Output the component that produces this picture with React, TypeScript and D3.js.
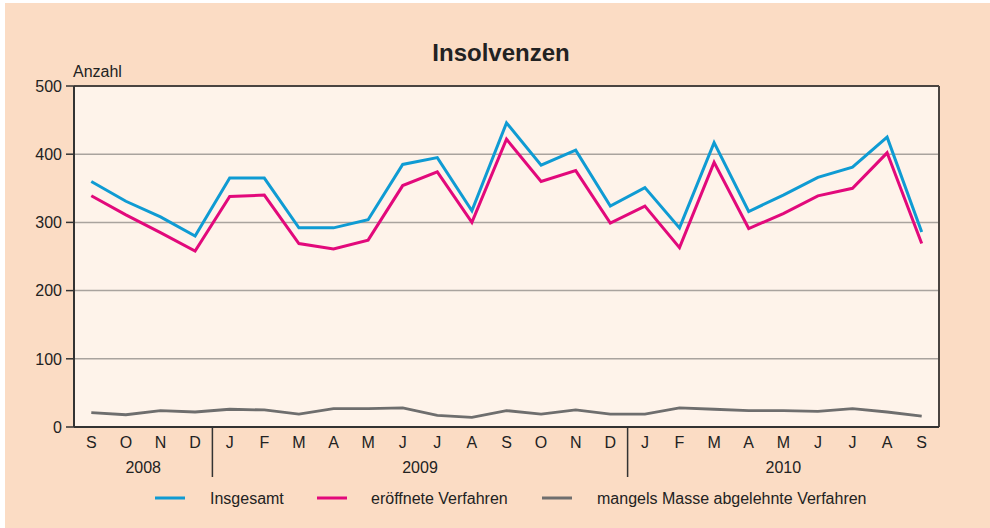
import React from "react";
import * as d3 from "d3";

const months = ["S","O","N","D","J","F","M","A","M","J","J","A","S","O","N","D","J","F","M","A","M","J","J","A","S"];
const years = [
  { label: "2008", start: 0, end: 4 },
  { label: "2009", start: 4, end: 16 },
  { label: "2010", start: 16, end: 25 },
];
const insgesamt = [360,331,308,280,365,365,292,292,304,385,395,317,446,384,406,324,351,292,417,316,340,366,381,425,286];
const eroeffnet = [339,311,285,258,338,340,269,261,274,354,374,300,422,360,376,299,324,263,388,291,313,339,350,402,269];
const mangels = [21,18,24,22,26,25,19,27,27,28,17,14,24,19,25,19,19,28,26,24,24,23,27,22,16];
const yTicks = [0,100,200,300,400,500];
const seriesNames = ["Insgesamt","eröffnete Verfahren","mangels Masse abgelehnte Verfahren"];
const colors = ["#0f9bd3","#e2097b","#6e6e6e"];

export default function App() {
  const W = 990, H = 528;
  const left = 74, right = 939, top = 86, bottom = 427;
  const idx = months.map((_, i) => i);
  const x = d3.scaleBand<number>().domain(idx).range([left, right]).paddingInner(0).paddingOuter(0);
  const cx = (i: number) => (x(i) as number) + x.bandwidth() / 2;
  const y = d3.scaleLinear().domain([0, 500]).range([bottom, top]);
  const line = d3.line<number>().x((_, i) => cx(i)).y((d) => y(d));
  const series = [insgesamt, eroeffnet, mangels];
  const font = "Liberation Sans, Arial, sans-serif";
  const legendLineX = [155, 317, 542];
  const legendTextX = [210, 371, 597];
  return (
    <svg width={W} height={H} style={{ position: "absolute", left: 0, top: 0 }} fontFamily={font}>
      <rect x={0} y={0} width={W} height={H} fill="#ffffff" />
      <rect x={5} y={3} width={W - 5} height={H - 3} fill="#fbdcc4" />
      <rect x={left} y={top} width={right - left} height={bottom - top} fill="#fef3ea" />
      <text x={501} y={61} textAnchor="middle" fontSize={24} fontWeight="bold" fill="#222">Insolvenzen</text>
      <text x={73} y={77} fontSize={16} fill="#222">Anzahl</text>
      {yTicks.map((t) => (
        <g key={t}>
          {t > 0 && t < 500 && (
            <line x1={left} x2={right} y1={y(t)} y2={y(t)} stroke="#a9a39e" strokeWidth={1.5} />
          )}
          <line x1={66} x2={left} y1={y(t)} y2={y(t)} stroke="#333" strokeWidth={1.5} />
          <text x={62} y={y(t)} dy="0.36em" textAnchor="end" fontSize={16} fill="#222">{t}</text>
        </g>
      ))}
      <line x1={left} x2={right} y1={top} y2={top} stroke="#4a4440" strokeWidth={2} />
      <line x1={right} x2={right} y1={top} y2={bottom} stroke="#4a4440" strokeWidth={2} />
      {series.map((s, k) => (
        <path key={k} d={line(s) || ""} fill="none" stroke={colors[k]} strokeWidth={k === 2 ? 2.8 : 3} strokeLinejoin="miter" />
      ))}
      <line x1={left} x2={left} y1={top} y2={bottom} stroke="#333" strokeWidth={2} />
      <line x1={left} x2={right} y1={bottom} y2={bottom} stroke="#333" strokeWidth={2} />
      {months.map((m, i) => (
        <text key={i} x={cx(i)} y={442} dy="0.36em" textAnchor="middle" fontSize={16} fill="#222">{m}</text>
      ))}
      {years.map((yr, i) => {
        const x0 = x(yr.start) as number;
        const x1 = yr.end < months.length ? (x(yr.end) as number) : right;
        return (
          <g key={i}>
            {i > 0 && <line x1={x0} x2={x0} y1={bottom} y2={477} stroke="#333" strokeWidth={1.5} />}
            <text x={(x0 + x1) / 2} y={467} dy="0.36em" textAnchor="middle" fontSize={16} fill="#222">{yr.label}</text>
          </g>
        );
      })}
      {seriesNames.map((n, k) => (
        <g key={k}>
          <line x1={legendLineX[k]} x2={legendLineX[k] + 30} y1={498} y2={498} stroke={colors[k]} strokeWidth={3} />
          <text x={legendTextX[k]} y={498} dy="0.36em" fontSize={16} fill="#222">{n}</text>
        </g>
      ))}
    </svg>
  );
}
